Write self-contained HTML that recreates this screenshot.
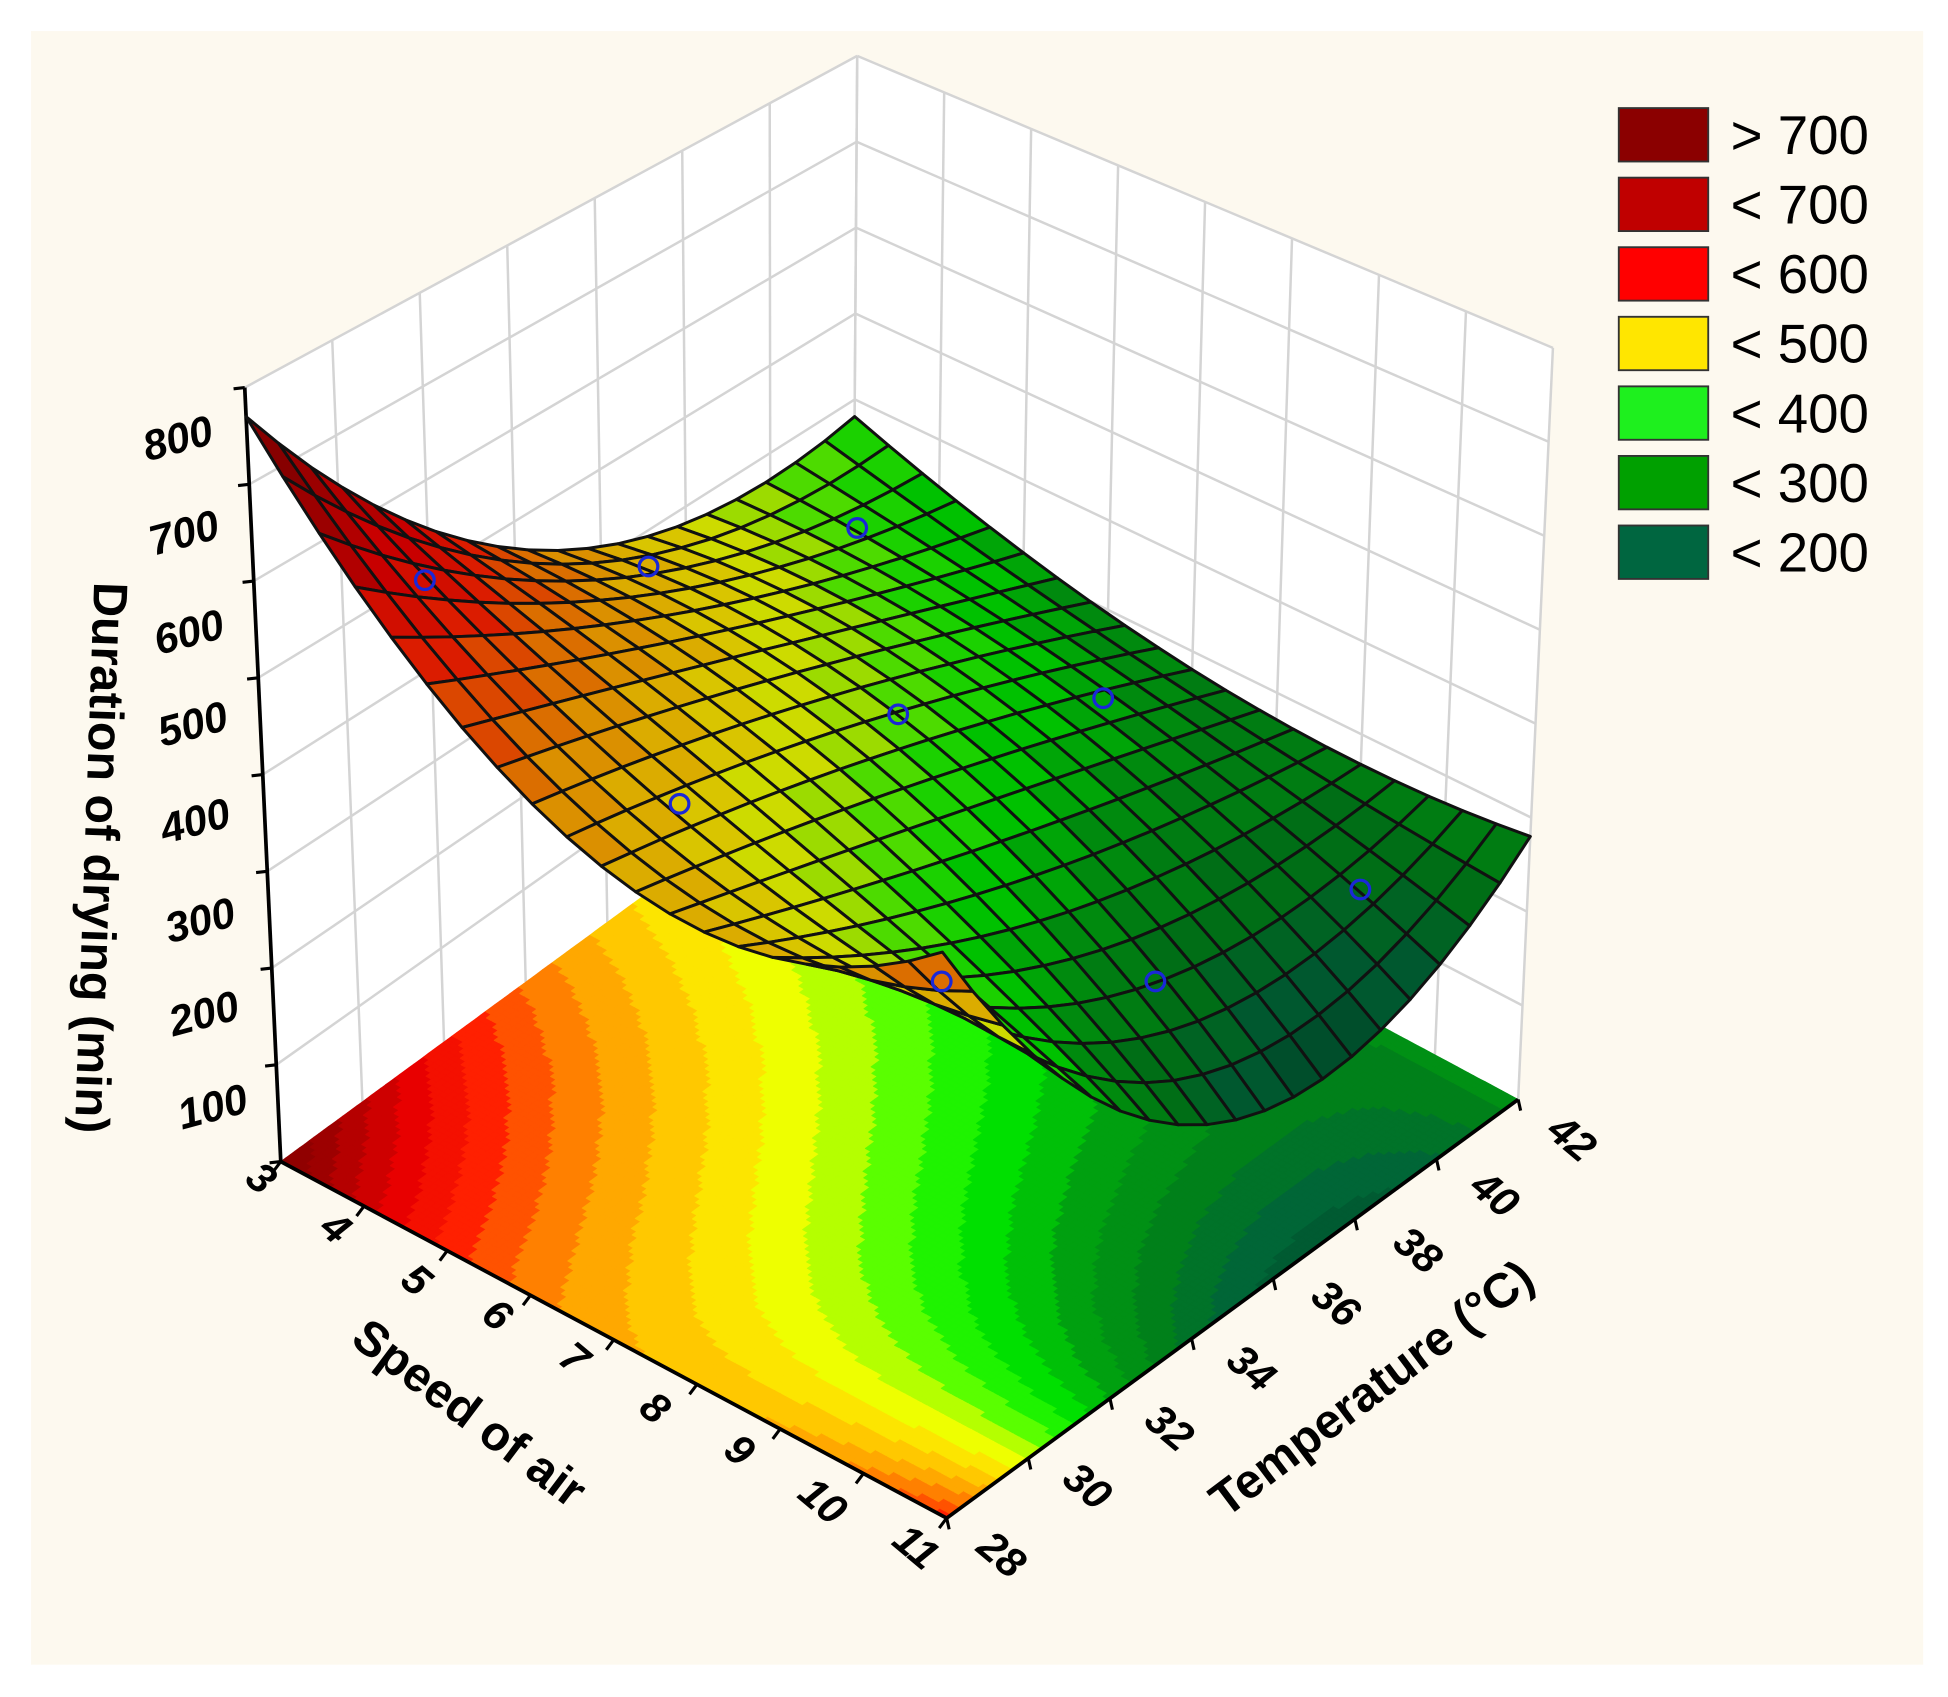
<!DOCTYPE html>
<html><head><meta charset="utf-8"><style>
html,body{margin:0;padding:0;background:#fff;}
svg{display:block;}
text{font-family:"Liberation Sans",Arial,sans-serif;fill:#000;}
.tk{font-size:34px;font-weight:bold;font-style:italic;}
.tt{font-size:39px;font-weight:bold;}
.lg{font-size:44px;}
</style></head><body>
<svg id="s" width="1948" height="1697" viewBox="0 0 1568 1366" preserveAspectRatio="none" xmlns="http://www.w3.org/2000/svg">
<rect x="0" y="0" width="1568" height="1366" fill="#ffffff"/>
<rect x="25" y="25" width="1523" height="1315" fill="#fdf9ef"/>
<g id="walls"></g>
<g id="floor"></g>
<g id="axes"></g>
<g id="surf"></g>
<g id="pts"></g>
<g id="labels">
<text class="tk" transform="translate(146,364) rotate(-15)" text-anchor="middle">800</text>
<text class="tk" transform="translate(151,440) rotate(-15)" text-anchor="middle">700</text>
<text class="tk" transform="translate(155,520) rotate(-15)" text-anchor="middle">600</text>
<text class="tk" transform="translate(158,594) rotate(-15)" text-anchor="middle">500</text>
<text class="tk" transform="translate(160,672) rotate(-15)" text-anchor="middle">400</text>
<text class="tk" transform="translate(164,752) rotate(-15)" text-anchor="middle">300</text>
<text class="tk" transform="translate(167,827) rotate(-15)" text-anchor="middle">200</text>
<text class="tk" transform="translate(174,902) rotate(-15)" text-anchor="middle">100</text>
<text class="tt" transform="translate(68,690) rotate(92)" text-anchor="middle">Duration of drying (min)</text>
<text class="tt" transform="translate(370,1148) rotate(37)" text-anchor="middle">Speed of air</text>
<text class="tt" transform="translate(1112,1128) rotate(-37)" text-anchor="middle">Temperature (°C)</text>
</g>
<g id="legend">
<rect x="1303" y="87" width="72" height="43" fill="#8b0000" stroke="#333" stroke-width="1.5"/>
<rect x="1303" y="143" width="72" height="43" fill="#c00000" stroke="#333" stroke-width="1.5"/>
<rect x="1303" y="199" width="72" height="43" fill="#ff0000" stroke="#333" stroke-width="1.5"/>
<rect x="1303" y="255" width="72" height="43" fill="#ffe600" stroke="#333" stroke-width="1.5"/>
<rect x="1303" y="311" width="72" height="43" fill="#1ef01e" stroke="#333" stroke-width="1.5"/>
<rect x="1303" y="367" width="72" height="43" fill="#00a000" stroke="#333" stroke-width="1.5"/>
<rect x="1303" y="423" width="72" height="43" fill="#006640" stroke="#333" stroke-width="1.5"/>
<text class="lg" x="1393" y="124">&gt; 700</text>
<text class="lg" x="1393" y="180">&lt; 700</text>
<text class="lg" x="1393" y="236">&lt; 600</text>
<text class="lg" x="1393" y="292">&lt; 500</text>
<text class="lg" x="1393" y="348">&lt; 400</text>
<text class="lg" x="1393" y="404">&lt; 300</text>
<text class="lg" x="1393" y="460">&lt; 200</text>
</g>
</svg>
<script>
(function(){
var NS="http://www.w3.org/2000/svg";
var F00=[226,935],F10=[762,1222],F11=[1222,885],F01=[686,598];
var T00=[197,312],T10=[757,547],T11=[1250,280],T01=[690,45];
function bl(A,B,C,D,s,t){
 return [A[0]*(1-s)*(1-t)+B[0]*s*(1-t)+C[0]*s*t+D[0]*(1-s)*t,
         A[1]*(1-s)*(1-t)+B[1]*s*(1-t)+C[1]*s*t+D[1]*(1-s)*t];}
function P(s,t,z){var f=bl(F00,F10,F11,F01,s,t),u=bl(T00,T10,T11,T01,s,t),k=z/800;
 return [f[0]*(1-k)+u[0]*k,f[1]*(1-k)+u[1]*k];}
var GF=[[770,530,380],[520,400,280],[600,200,280]];
var GS=[[770,440,380],[470,400,280],[540,190,280]];
function L(x){return [2*(x-.5)*(x-1),-4*x*(x-1),2*x*(x-.5)];}
function mk(G){return function(s,t){var a=L(s),b=L(t),v=0;for(var i=0;i<3;i++)for(var j=0;j<3;j++)v+=a[i]*b[j]*G[i][j];return v;};}
var ff=mk(GF),fs=mk(GS);
var stops=[[150,[0,80,45]],[200,[0,102,55]],[250,[0,128,26]],[300,[0,160,16]],[350,[0,224,0]],[390,[50,255,0]],[420,[170,255,0]],[450,[238,255,0]],[480,[255,224,0]],[520,[255,176,0]],[560,[255,112,0]],[600,[255,32,0]],[650,[232,0,0]],[720,[160,0,0]],[780,[128,0,0]]];
function col(v,m){v=Math.round(v/25)*25;var c;
 if(v<=stops[0][0])c=stops[0][1];else if(v>=stops[stops.length-1][0])c=stops[stops.length-1][1];
 else for(var i=0;i<stops.length-1;i++){if(v>=stops[i][0]&&v<=stops[i+1][0]){var k=(v-stops[i][0])/(stops[i+1][0]-stops[i][0]);c=[0,1,2].map(function(j){return stops[i][1][j]*(1-k)+stops[i+1][1][j]*k;});break;}}
 m=m||1;return "rgb("+c.map(function(x){return Math.round(x*m);}).join(",")+")";}
function poly(g,pts,fill,stroke,sw){var p=document.createElementNS(NS,"polygon");
 p.setAttribute("points",pts.map(function(q){return q[0].toFixed(1)+","+q[1].toFixed(1);}).join(" "));
 p.setAttribute("fill",fill);if(stroke){p.setAttribute("stroke",stroke);p.setAttribute("stroke-width",sw);p.setAttribute("stroke-linejoin","round");}g.appendChild(p);}
function line(g,a,b,c,w){var l=document.createElementNS(NS,"line");l.setAttribute("x1",a[0]);l.setAttribute("y1",a[1]);l.setAttribute("x2",b[0]);l.setAttribute("y2",b[1]);l.setAttribute("stroke",c);l.setAttribute("stroke-width",w);g.appendChild(l);}
var W=document.getElementById("walls");
poly(W,[P(0,0,0),P(0,1,0),P(0,1,800),P(0,0,800)],"#fff");
poly(W,[P(0,1,0),P(1,1,0),P(1,1,800),P(0,1,800)],"#fff");
for(var k=0;k<=7;k++)line(W,P(0,k/7,0),P(0,k/7,800),"#d4d4d4",2);
for(var k=0;k<=8;k++)line(W,P(k/8,1,0),P(k/8,1,800),"#d4d4d4",2);
for(var z=100;z<=800;z+=100){line(W,P(0,0,z),P(0,1,z),"#d4d4d4",2);line(W,P(0,1,z),P(1,1,z),"#d4d4d4",2);}
var Fl=document.getElementById("floor"),N=120;
for(var i=0;i<N;i++)for(var j=0;j<N;j++){var s0=i/N,s1=(i+1)/N,t0=j/N,t1=(j+1)/N;
 var c=col(ff((s0+s1)/2,(t0+t1)/2));poly(Fl,[P(s0,t0,0),P(s1,t0,0),P(s1,t1,0),P(s0,t1,0)],c,c,0.7);}
var A=document.getElementById("axes");
line(A,P(0,0,0),P(0,0,800),"#000",3);line(A,P(0,0,0),P(1,0,0),"#000",3);line(A,P(1,0,0),P(1,1,0),"#000",3);
for(var z=0;z<=800;z+=100){var a=P(0,0,z);line(A,a,[a[0]-9,a[1]+1],"#000",2.5);}
for(var k=0;k<=8;k++){var a=P(k/8,0,0);line(A,a,[a[0]-6,a[1]+8],"#000",2.5);}
for(var k=0;k<=7;k++){var a=P(1,k/7,0);line(A,a,[a[0]+2,a[1]+9],"#000",2.5);}
var S=document.getElementById("surf"),M=20,cells=[];
for(var i=0;i<M;i++)for(var j=0;j<M;j++)cells.push([i,j]);
cells.sort(function(a,b){return (a[0]-a[1])-(b[0]-b[1]);});
cells.forEach(function(c){var i=c[0],j=c[1],s0=i/M,s1=(i+1)/M,t0=j/M,t1=(j+1)/M;
 var pts=[P(s0,t0,fs(s0,t0)),P(s1,t0,fs(s1,t0)),P(s1,t1,fs(s1,t1)),P(s0,t1,fs(s0,t1))];
 poly(S,pts,col(ff((s0+s1)/2,(t0+t1)/2),0.86),"#111",2.4);});
var Pt=document.getElementById("pts");
[[342,467],[522,456],[690,425],[723,575],[547,647],[888,562],[1095,716],[930,790],[758,790]].forEach(function(q){
 var c=document.createElementNS(NS,"circle");c.setAttribute("cx",q[0]);c.setAttribute("cy",q[1]);c.setAttribute("r",7.5);
 c.setAttribute("fill","none");c.setAttribute("stroke","#1a28d8");c.setAttribute("stroke-width",2.6);Pt.appendChild(c);});
var Lb=document.getElementById("labels");
function txt(x,y,r,str){var t=document.createElementNS(NS,"text");t.setAttribute("class","tk");t.setAttribute("text-anchor","middle");
 t.setAttribute("transform","translate("+x+","+y+") rotate("+r+")");t.textContent=str;Lb.appendChild(t);}
var sp=[[203,957],[263,997],[328,1039],[393,1067],[455,1102],[520,1142],[588,1176],[655,1217],[730,1254]];
sp.forEach(function(q,k){txt(q[0],q[1],40,String(3+k));});
var tp=[[799,1260],[868,1205],[934,1158],[1000,1110],[1068,1058],[1134,1015],[1196,970],[1258,925]];
tp.forEach(function(q,k){txt(q[0],q[1],40,String(28+2*k));});
})();
</script>
</body></html>
